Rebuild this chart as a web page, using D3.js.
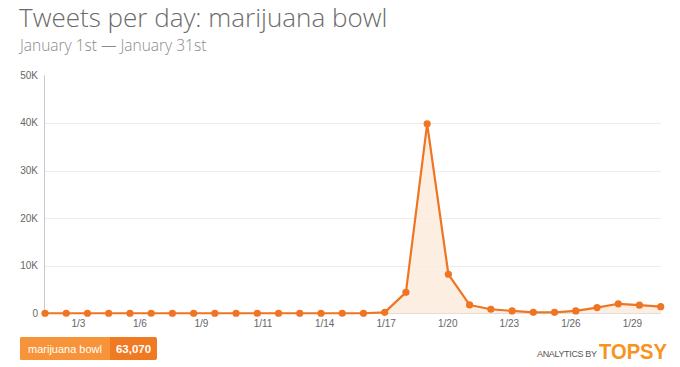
<!DOCTYPE html>
<html><head><meta charset="utf-8">
<script src="https://cdn.jsdelivr.net/npm/d3@7"></script>
<style>
html,body{margin:0;padding:0;background:#fff;}
svg{display:block;}
</style></head>
<body>
<svg id="chart" width="680" height="367"></svg>
<script>
// ---- data ----
const title = "Tweets per day: marijuana bowl";
const subtitle = "January 1st \u2014 January 31st";
const seriesName = "marijuana bowl";
const seriesTotal = "63,070";
const days = d3.range(1, 31); // Jan 1 .. Jan 30
const values = [10, 12, 10, 11, 10, 12, 11, 10, 10, 11, 12, 10, 11, 10, 12, 10,
                200, 4400, 39800, 8200, 1750, 850, 500, 200, 200, 500, 1200, 2000, 1700, 1400];
const yTicks = [0, 10000, 20000, 30000, 40000, 50000];
const yTickLabels = ["0", "10K", "20K", "30K", "40K", "50K"];
const xTickDays = [2.57, 5.47, 8.37, 11.27, 14.17, 17.07, 19.97, 22.87, 25.77, 28.67];
const xTickLabels = ["1/3", "1/6", "1/9", "1/11", "1/14", "1/17", "1/20", "1/23", "1/26", "1/29"];

// ---- layout ----
const svg = d3.select("#chart");
const plot = {left: 45, right: 661, top: 75.3, bottom: 313.3};
const x = d3.scaleLinear().domain([1, 30]).range([plot.left, 660.7]);
const y = d3.scaleLinear().domain([0, 50000]).range([plot.bottom, plot.top]);
const orange = "#ef7522";

// title
svg.append("text").attr("x", 19).attr("y", 27)
  .attr("font-family", "'Open Sans', sans-serif").attr("font-weight", 300)
  .attr("font-size", 26).attr("fill", "#6b6b6b").text(title);
svg.append("text").attr("x", 20).attr("y", 51)
  .attr("font-family", "'Open Sans', sans-serif").attr("font-weight", 300)
  .attr("font-size", 15.5).attr("fill", "#8a8a8a").text(subtitle);

// grid lines
const g = svg.append("g");
g.selectAll("line.grid").data(yTicks.filter(v => v > 0 && v < 50000)).join("line")
  .attr("x1", plot.left).attr("x2", plot.right)
  .attr("y1", d => Math.round(y(d)) + 0.5).attr("y2", d => Math.round(y(d)) + 0.5)
  .attr("stroke", "#ececec").attr("stroke-width", 1);
// baseline
g.append("line").attr("x1", plot.left).attr("x2", plot.right)
  .attr("y1", Math.round(y(0)) + 0.5).attr("y2", Math.round(y(0)) + 0.5)
  .attr("stroke", "#dcdcdc");
// y axis line
g.append("line").attr("x1", 44.5).attr("x2", 44.5)
  .attr("y1", y(50000)).attr("y2", y(0))
  .attr("stroke", "#c8c8c8");

// y labels
g.selectAll("text.ylab").data(yTicks).join("text")
  .attr("x", 38).attr("y", d => y(d) + 3.5).attr("text-anchor", "end")
  .attr("font-family", "Arial, 'Liberation Sans', sans-serif").attr("font-size", 10)
  .attr("fill", "#666").text((d, i) => yTickLabels[i]);

// x labels
g.selectAll("text.xlab").data(xTickDays).join("text")
  .attr("x", d => x(d)).attr("y", 327).attr("text-anchor", "middle")
  .attr("font-family", "Arial, 'Liberation Sans', sans-serif").attr("font-size", 10)
  .attr("fill", "#666").text((d, i) => xTickLabels[i]);

// area + line
const pts = days.map((d, i) => [d, values[i]]);
g.append("path").datum(pts)
  .attr("d", d3.area().x(d => x(d[0])).y0(y(0)).y1(d => y(d[1])))
  .attr("fill", "#fdebdd").attr("opacity", 0.85);
g.append("path").datum(pts)
  .attr("d", d3.line().x(d => x(d[0])).y(d => y(d[1])))
  .attr("fill", "none").attr("stroke", orange).attr("stroke-width", 2.2)
  .attr("stroke-linejoin", "round");
g.selectAll("circle").data(pts).join("circle")
  .attr("cx", d => x(d[0])).attr("cy", d => y(d[1])).attr("r", 3.6)
  .attr("fill", orange);

// legend
const lg = svg.append("g");
lg.append("rect").attr("x", 20).attr("y", 337).attr("width", 137).attr("height", 23)
  .attr("rx", 2).attr("fill", "#ef7a22");
lg.append("rect").attr("x", 20).attr("y", 337).attr("width", 90).attr("height", 23)
  .attr("rx", 2).attr("fill", "#f7943a");
lg.append("rect").attr("x", 105).attr("y", 337).attr("width", 5).attr("height", 23)
  .attr("fill", "#f7943a");
lg.append("text").attr("x", 28).attr("y", 352.5)
  .attr("font-family", "Arial, 'Liberation Sans', sans-serif").attr("font-size", 11)
  .attr("fill", "#fff").text(seriesName);
lg.append("text").attr("x", 133.5).attr("y", 353).attr("text-anchor", "middle")
  .attr("font-family", "Arial, 'Liberation Sans', sans-serif").attr("font-size", 11.5)
  .attr("font-weight", "bold").attr("fill", "#fff").text(seriesTotal);

// branding
svg.append("text").attr("x", 597).attr("y", 357).attr("text-anchor", "end")
  .attr("font-family", "Arial, 'Liberation Sans', sans-serif").attr("font-size", 9)
  .attr("fill", "#555").attr("textLength", 60).text("ANALYTICS BY");
svg.append("text").attr("x", 599).attr("y", 358.5)
  .attr("font-family", "'Liberation Sans Narrow', Arial, sans-serif").attr("font-size", 22.5)
  .attr("font-weight", "bold").attr("fill", "#f7941d")
  .attr("textLength", 68).attr("lengthAdjust", "spacingAndGlyphs").text("TOPSY");
</script>
</body></html>
